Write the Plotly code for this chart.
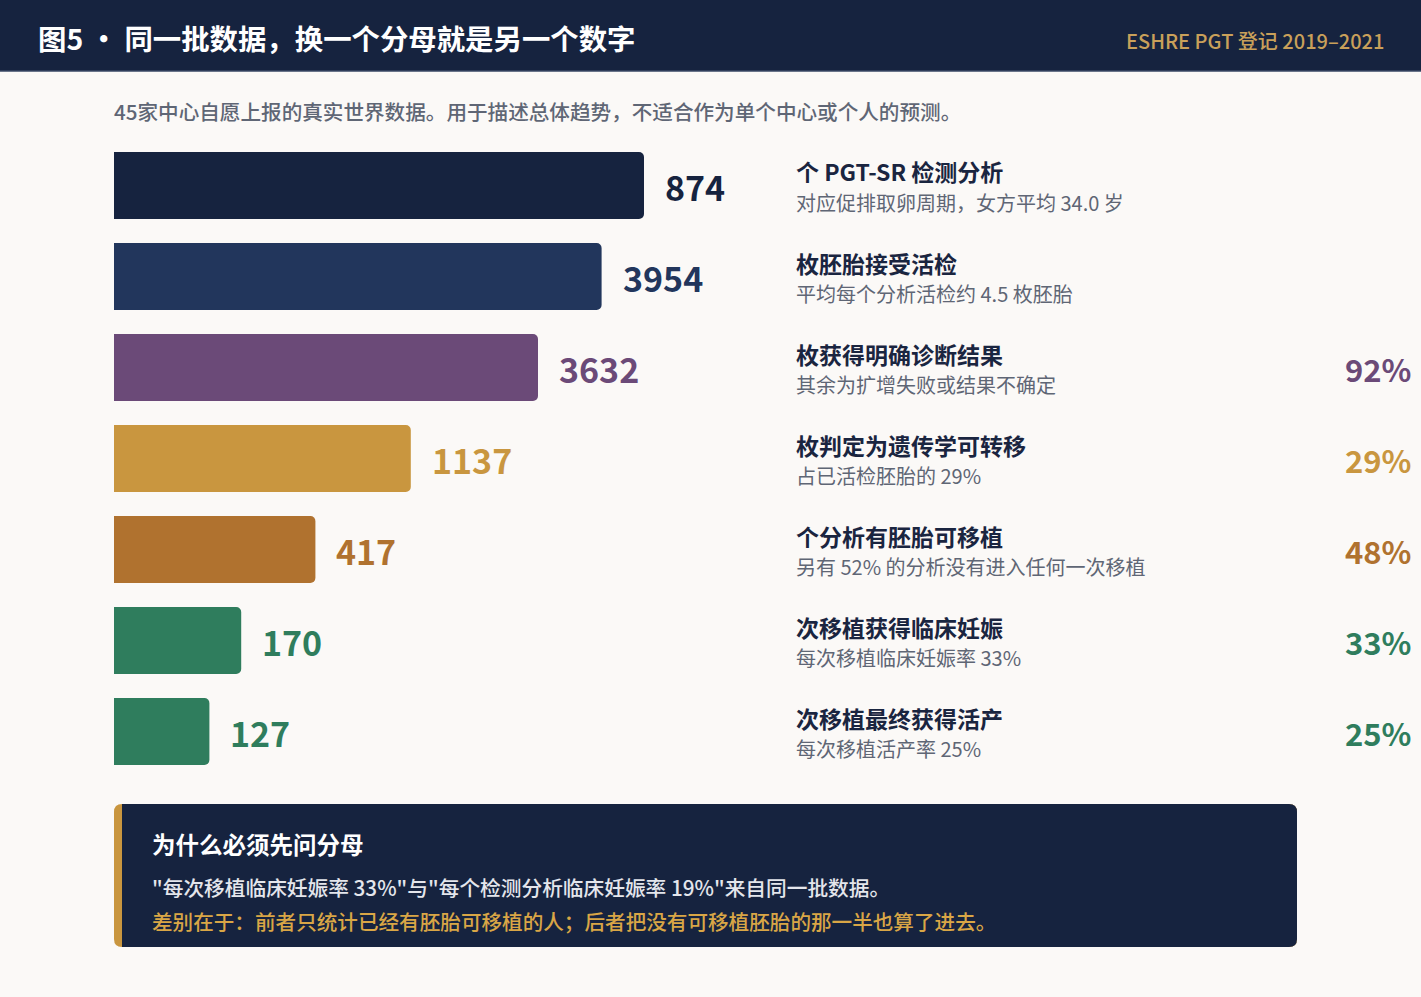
import plotly.graph_objects as go

# datos del embudo PGT-SR
counts = [874, 3954, 3632, 1137, 417, 170, 127]
bar_scale = [100, 92, 80, 56, 38, 24, 18]  # longitud visual relativa de cada barra
titles = ["个 PGT-SR 检测分析", "枚胚胎接受活检", "枚获得明确诊断结果", "枚判定为遗传学可转移",
          "个分析有胚胎可移植", "次移植获得临床妊娠", "次移植最终获得活产"]
notes = ["对应促排取卵周期，女方平均 34.0 岁", "平均每个分析活检约 4.5 枚胚胎", "其余为扩增失败或结果不确定",
         "占已活检胚胎的 29%", "另有 52% 的分析没有进入任何一次移植", "每次移植临床妊娠率 33%", "每次移植活产率 25%"]
pct = [None, None, 92, 29, 48, 33, 25]
colors = ["#16233f", "#22365c", "#6b4a78", "#c9963f", "#b0722f", "#2f7d5d", "#2f7d5d"]

W, H = 1421, 997
NAVY = "#16233f"
GOLD = "#c9a05a"
FONT = "Noto Sans CJK SC"


def px(x):
    return x / W


def py(y):
    return 1 - y / H


def rounded(x0, y0, x1, y1, r, left=True):
    # path en coordenadas paper, y en pixeles desde arriba
    X0, X1 = px(x0), px(x1)
    rx, ry = r / W, r / H
    Y0, Y1 = py(y0), py(y1)
    if left:
        return (f"M{X0+rx},{Y0} L{X1-rx},{Y0} Q{X1},{Y0} {X1},{Y0-ry} L{X1},{Y1+ry} Q{X1},{Y1} {X1-rx},{Y1} "
                f"L{X0+rx},{Y1} Q{X0},{Y1} {X0},{Y1+ry} L{X0},{Y0-ry} Q{X0},{Y0} {X0+rx},{Y0} Z")
    return (f"M{X0},{Y0} L{X1-rx},{Y0} Q{X1},{Y0} {X1},{Y0-ry} L{X1},{Y1+ry} Q{X1},{Y1} {X1-rx},{Y1} "
            f"L{X0},{Y1} Z")


rows = list(range(len(counts)))
x_left, x_full = 114, 530  # pixel start of bars, pixel length for scale 100
x_max = 100 * (W - x_left) / x_full

fig = go.Figure()
fig.add_trace(go.Bar(x=bar_scale, y=rows, orientation="h", width=0.736,
                     marker=dict(color=colors, cornerradius=5, line=dict(width=0)),
                     hoverinfo="skip"))

# valores
for i, (v, s, c) in enumerate(zip(counts, bar_scale, colors)):
    fig.add_annotation(x=s, y=i, xref="x", yref="y", text=str(v), showarrow=False, xanchor="left",
                       xshift=19, yshift=-1, font=dict(size=34, color=c, family=FONT, weight=700))

# etiquetas de la derecha
for i, (t, n) in enumerate(zip(titles, notes)):
    fig.add_annotation(x=px(794), y=i, xref="paper", yref="y", text=t, showarrow=False, xanchor="left",
                       yshift=14, font=dict(size=23, color="#1a2540", family=FONT, weight=700))
    fig.add_annotation(x=px(794), y=i, xref="paper", yref="y", text=n, showarrow=False, xanchor="left",
                       yshift=-17, font=dict(size=20, color="#5f6675", family=FONT))
    if pct[i] is not None:
        fig.add_annotation(x=px(1413), y=i, xref="paper", yref="y", text=f"{pct[i]}%", showarrow=False,
                           xanchor="right", yshift=-1, font=dict(size=31, color=colors[i], family=FONT, weight=700))

shapes = [
    dict(type="rect", xref="paper", yref="paper", x0=0, x1=1, y0=py(71), y1=1,
         fillcolor=NAVY, line=dict(width=0), layer="below"),
    dict(type="line", xref="paper", yref="paper", x0=0, x1=1, y0=py(71), y1=py(71),
         line=dict(color="#3a4866", width=1.5)),
    dict(type="path", xref="paper", yref="paper", path=rounded(114, 804, 1297, 947, 8),
         fillcolor="#c9963f", line=dict(width=0), layer="below"),
    dict(type="path", xref="paper", yref="paper", path=rounded(122, 804, 1297, 947, 8, left=False),
         fillcolor=NAVY, line=dict(width=0), layer="below"),
]

texts = [
    dict(x=px(36), y=py(37), text="图5 · 同一批数据，换一个分母就是另一个数字", xanchor="left",
         font=dict(size=28.4, color="white", family=FONT, weight=700)),
    dict(x=px(1386), y=py(40), text="ESHRE PGT 登记 2019–2021", xanchor="right",
         font=dict(size=20, color=GOLD, family=FONT, weight=500)),
    dict(x=px(112), y=py(111), text="45家中心自愿上报的真实世界数据。用于描述总体趋势，不适合作为单个中心或个人的预测。",
         xanchor="left", font=dict(size=20.6, color="#5f6675", family=FONT, weight=500)),
    dict(x=px(150), y=py(844), text="为什么必须先问分母", xanchor="left",
         font=dict(size=23.5, color="white", family=FONT, weight=700)),
    dict(x=px(150), y=py(887), text="\"每次移植临床妊娠率 33%\"与\"每个检测分析临床妊娠率 19%\"来自同一批数据。",
         xanchor="left", font=dict(size=20.7, color="#e4e6ec", family=FONT, weight=500)),
    dict(x=px(150), y=py(921), text="差别在于：前者只统计已经有胚胎可移植的人；后者把没有可移植胚胎的那一半也算了进去。",
         xanchor="left", font=dict(size=20.6, color="#d9a646", family=FONT, weight=500)),
]
for t in texts:
    fig.add_annotation(xref="paper", yref="paper", showarrow=False, yanchor="middle", **t)

fig.update_layout(
    width=W, height=H, margin=dict(l=0, r=0, t=0, b=0),
    paper_bgcolor="#fbf9f7", plot_bgcolor="rgba(0,0,0,0)",
    showlegend=False, shapes=shapes,
    xaxis=dict(domain=[px(x_left), 1], range=[0, x_max], visible=False, fixedrange=True),
    yaxis=dict(domain=[py(777), py(140)], range=[6.5, -0.5], visible=False, fixedrange=True),
    font=dict(family=FONT),
)
fig.write_html("out.html", config={"displayModeBar": False},
               post_script="document.body.style.margin='0';document.body.style.overflow='hidden';")
